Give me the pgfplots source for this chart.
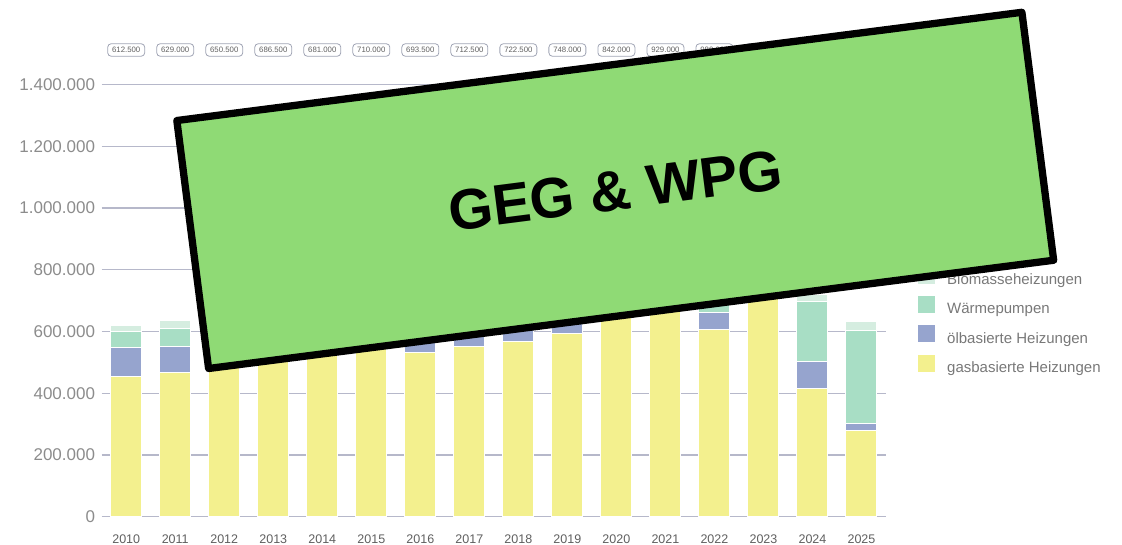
\documentclass[border=0pt]{standalone}
\usepackage{pgfplots}
\pgfplotsset{compat=1.18}
\usepackage{pgfplotstable}
\usepackage{fontspec}
\setmainfont{Liberation Sans}
\definecolor{gasc}{RGB}{243,240,142}
\definecolor{oilc}{RGB}{150,164,206}
\definecolor{wpc}{RGB}{168,222,197}
\definecolor{bioc}{RGB}{213,237,224}
\definecolor{gridc}{RGB}{182,184,202}
\definecolor{tickc}{RGB}{140,140,140}
\definecolor{xtickc}{RGB}{95,95,95}
\definecolor{legc}{RGB}{120,120,120}
\definecolor{bannerc}{RGB}{143,218,117}
\definecolor{boxc}{RGB}{160,164,180}

% values in thousands
\pgfplotstableread{
idx gas oil wp bio
0  454  95  51  19
1  468  84  57  28
2  490  86  55  27
3  515  88  60  31
4  525  75  60  29
5  550  68  64  36
6  533  64  71  33
7  552  56  80  33
8  569  52  85  25
9  595  45  88  28
10 650  50  122 30
11 705  47  157 31
12 607  55  240 89
13 800  113 360 48
14 416  86  195 22
15 279  24  302 29
}\datatable

\newcommand{\tl}[2]{\node[draw=boxc, line width=0.8pt, rounded corners=3.5pt, minimum width=37pt, minimum height=12.5pt,
        inner sep=1pt, font=\fontsize{7.8}{9}\selectfont, text=xtickc]
        at ([yshift=34.7pt]axis cs:#1,1400) {#2};}

\begin{document}
\begin{tikzpicture}[x=1pt,y=1pt]
\useasboundingbox (0,0) rectangle (1122,545);
\begin{axis}[
  at={(101.7pt,28.3pt)}, anchor=south west,
  scale only axis, width=784.3pt, height=432pt,
  ybar stacked, bar width=31pt,
  xmin=-0.5, xmax=15.5, ymin=0, ymax=1400,
  enlargelimits=false, clip=false,
  xtick={0,...,15},
  xticklabels={2010,2011,2012,2013,2014,2015,2016,2017,2018,2019,2020,2021,2022,2023,2024,2025},
  ytick={0,200,...,1400},
  yticklabels={0,200.000,400.000,600.000,800.000,1.000.000,1.200.000,1.400.000},
  major tick length=0pt,
  axis line style={draw=none},
  ymajorgrids, grid style={draw=gridc, line width=1.3pt},
  yticklabel style={font=\fontsize{17}{20}\selectfont, text=tickc, anchor=east, inner xsep=0pt, xshift=-6.5pt},
  xticklabel style={font=\fontsize{12.5}{14}\selectfont, text=xtickc, anchor=base, yshift=-27pt},
  legend image code/.code={\fill[#1,draw=none] (0pt,-4pt) rectangle (17pt,13pt);},
  reverse legend,
  legend cell align=left,
  legend style={at={(1.0408,0.579)}, anchor=north west, draw=none, fill=none,
    inner sep=0pt, row sep=10.3pt, column sep=12pt,
    font=\fontsize{15}{17}\selectfont, text=legc,
    nodes={inner sep=0pt}},
]
\addplot[fill=gasc, draw=white, line width=1pt] table[x=idx,y=gas]{\datatable};
\addlegendentry{gasbasierte Heizungen}
\addplot[fill=oilc, draw=white, line width=1pt] table[x=idx,y=oil]{\datatable};
\addlegendentry{ölbasierte Heizungen}
\addplot[fill=wpc, draw=white, line width=1pt] table[x=idx,y=wp]{\datatable};
\addlegendentry{Wärmepumpen}
\addplot[fill=bioc, draw=white, line width=1pt] table[x=idx,y=bio]{\datatable};
\addlegendentry{Biomasseheizungen}

\tl{0}{612.500}
\tl{1}{629.000}
\tl{2}{650.500}
\tl{3}{686.500}
\tl{4}{681.000}
\tl{5}{710.000}
\tl{6}{693.500}
\tl{7}{712.500}
\tl{8}{722.500}
\tl{9}{748.000}
\tl{10}{842.000}
\tl{11}{929.000}
\tl{12}{980.000}
\tl{13}{1.306.000}
\tl{14}{712.500}
\tl{15}{627.500}
\end{axis}

\begin{scope}[shift={(615.25,354.6)}, rotate=7.3]
  \draw[line width=7.3pt, line join=round, fill=bannerc] (-426,-125) rectangle (426,125);
  \node[font=\fontsize{57}{60}\selectfont\bfseries, text=black, rotate=7.3] at (0,0) {GEG \& WPG};
\end{scope}
\end{tikzpicture}
\end{document}
